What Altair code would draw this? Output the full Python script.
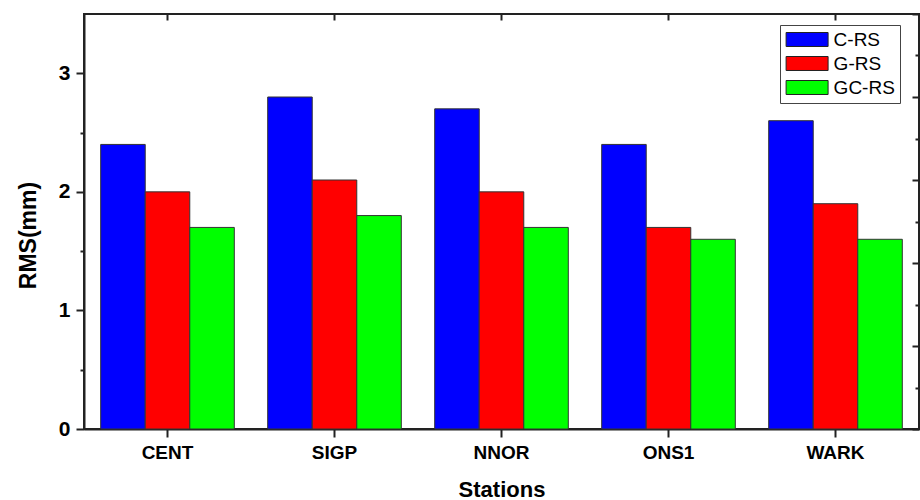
import altair as alt
import pandas as pd

stations = ["CENT", "SIGP", "NNOR", "ONS1", "WARK"]
series = ["C-RS", "G-RS", "GC-RS"]
c_rs = [2.4, 2.8, 2.7, 2.4, 2.6]
g_rs = [2.0, 2.1, 2.0, 1.7, 1.9]
gc_rs = [1.7, 1.8, 1.7, 1.6, 1.6]
colors = ["#0000FF", "#FF0000", "#00FF00"]

left_ticks = [0, 0.5, 1, 1.5, 2, 2.5, 3]
right_major = [0, 1, 2, 3, 4, 5]
right_minor = [0.5, 1.5, 2.5, 3.5, 4.5]

rows = []
for s, vals in zip(series, [c_rs, g_rs, gc_rs]):
    for st, v in zip(stations, vals):
        rows.append({"Station": st, "Series": s, "RMS": v})
df = pd.DataFrame(rows)

FONT = "Liberation Sans"
xscale = alt.Scale(paddingInner=0.2, paddingOuter=0.1)

bars = alt.Chart(df).mark_bar(stroke="#333", strokeWidth=1).encode(
    x=alt.X("Station:N", sort=stations, scale=xscale,
            axis=alt.Axis(title="Stations", orient="bottom", labelAngle=0,
                          labelFontSize=19, labelFontWeight="bold", labelPadding=6,
                          tickSize=8, titleFontSize=22, titleFontWeight="bold",
                          titleBaseline="alphabetic", titleY=67)),
    xOffset=alt.XOffset("Series:N", sort=series,
                        scale=alt.Scale(paddingInner=0, paddingOuter=0)),
    y=alt.Y("RMS:Q", scale=alt.Scale(domain=[0, 3.5], nice=False),
            axis=alt.Axis(title="RMS(mm)", values=left_ticks, format="~g",
                          labelExpr="datum.value % 1 === 0 ? datum.label : ''",
                          tickSize={"condition": {"test": "datum.value % 1 === 0", "value": 8}, "value": 4},
                          labelFontSize=21, labelFontWeight="bold", labelPadding=6,
                          titleFontSize=23, titleFontWeight="bold",
                          titleBaseline="alphabetic", titleX=-49, titleY=221, grid=False)),
    color=alt.Color("Series:N", sort=series,
                    scale=alt.Scale(domain=series, range=colors),
                    legend=alt.Legend(title=None, orient="none", legendX=696, legendY=11,
                                      symbolType="M-2.5,-0.833H2.5V0.833H-2.5Z", symbolSize=282,
                                      symbolOffset=12.6,
                                      symbolStrokeColor="#222", symbolStrokeWidth=1,
                                      labelFont=FONT, labelFontSize=19, labelColor="black",
                                      labelOffset=17, padding=5, rowPadding=4,
                                      strokeColor="#444", fillColor="white")),
)

top_axis = alt.Chart(df).mark_point(opacity=0).encode(
    x=alt.X("Station:N", sort=stations, scale=xscale,
            axis=alt.Axis(orient="top", offset=-6, domain=False, labels=False,
                          tickSize=6, title=None, grid=False)),
    y=alt.Y("RMS:Q", scale=alt.Scale(domain=[0, 3.5], nice=False), axis=None),
)

right_major_layer = alt.Chart(pd.DataFrame({"v": right_major})).mark_point(opacity=0).encode(
    y=alt.Y("v:Q", scale=alt.Scale(domain=[0, 5], nice=False),
            axis=alt.Axis(orient="right", offset=-7, domain=False, labels=False,
                          tickSize=7, values=right_major, title=None, grid=False)),
)

right_minor_layer = alt.Chart(pd.DataFrame({"v": right_minor})).mark_point(opacity=0).encode(
    y=alt.Y("v:Q", scale=alt.Scale(domain=[0, 5], nice=False),
            axis=alt.Axis(orient="right", offset=-4, domain=False, labels=False,
                          tickSize=4, values=right_minor, title=None, grid=False)),
)

chart = alt.layer(bars, top_axis, right_major_layer, right_minor_layer).resolve_scale(
    y="independent"
).resolve_axis(
    x="independent", y="independent"
).properties(
    width=835, height=415,
    autosize=alt.AutoSizeParams(type="none"),
    padding={"left": 84, "top": 14, "right": 1, "bottom": 71},
).configure(
    font=FONT,
).configure_view(
    stroke="#222", strokeWidth=2,
).configure_axis(
    domainColor="#222", domainWidth=2, tickColor="#222", tickWidth=2,
    labelColor="black", titleColor="black", labelFont=FONT, titleFont=FONT,
)

chart.save("out.html", embed_options={"renderer": "svg", "actions": False})
